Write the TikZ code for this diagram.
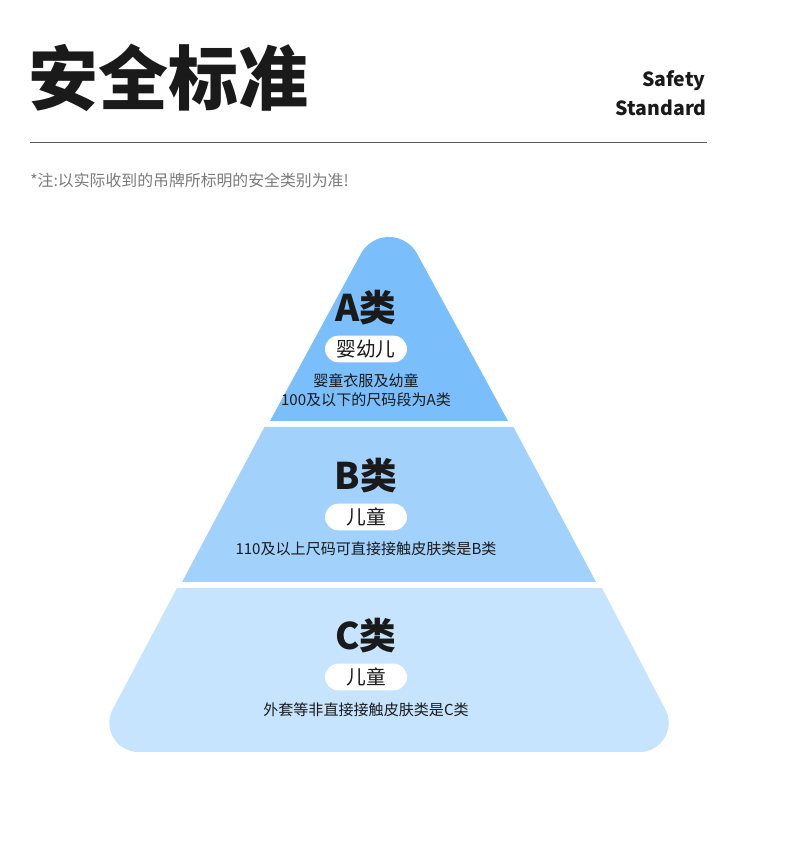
\documentclass[tikz,border=0pt]{standalone}
\usepackage{fontspec}
\newfontfamily\cjk{Noto Sans CJK SC}
\definecolor{tierA}{HTML}{7ABEFC}
\definecolor{tierB}{HTML}{A2D1FC}
\definecolor{tierC}{HTML}{C6E4FD}
\definecolor{ink}{HTML}{1A1A1A}
\definecolor{rulegray}{HTML}{5A5A5A}
\definecolor{notegray}{HTML}{7A7A7A}
\begin{document}
\begin{tikzpicture}[x=0.75pt,y=0.75pt,
        every node/.style={font=\cjk, text=ink, inner sep=0pt},
        grade/.style={font=\cjk\bfseries\fontsize{27.5}{27.5}\selectfont},
        pill/.style={fill=white, rounded corners=10pt, minimum width=61.5pt,
            minimum height=20pt, font=\cjk\fontsize{14.8}{14.8}\selectfont},
        desc/.style={font=\cjk\fontsize{11.3}{14.25}\selectfont, align=center}]
        \useasboundingbox (0,0) rectangle (790,865);
        % heading
        \node[anchor=west, font=\cjk\bfseries\fontsize{52.5}{52.5}\selectfont] (title) at (28,787) {安全标准};
        \node[anchor=east, font=\cjk\bfseries\fontsize{14.6}{14.6}\selectfont] (safety) at (706,784.5) {Safety};
        \node[anchor=east, font=\cjk\bfseries\fontsize{14.6}{14.6}\selectfont] (standard) at (707,757) {Standard};
        \draw[rulegray, line width=0.75pt] (30,722) -- (707,722);
        \node[anchor=west, text=notegray, font=\cjk\fontsize{11.9}{11.9}\selectfont] (note) at (30,685) {*注:以实际收到的吊牌所标明的安全类别为准!};
        % A tier
        \fill[tierA] (270,444) -- ([shift={(151.5:32)}]389,596)
            arc[start angle=151.5, end angle=28.5, radius=32] -- (508,444) -- cycle;
        \node[grade] (gradeA) at (366,557) {A类};
        \node[pill] (pillA) at (366,516) {婴幼儿};
        \node[desc] (descA) at (366,474.5) {婴童衣服及幼童\\100及以下的尺码段为A类};
        % B tier
        \fill[tierB] (182,283) -- (264.5,438) -- (513.5,438) -- (596,283) -- cycle;
        \node[grade] (gradeB) at (366,389) {B类};
        \node[pill] (pillB) at (366,348) {儿童};
        \node[desc] (descB) at (366,316) {110及以上尺码可直接接触皮肤类是B类};
        % C tier
        \fill[tierC] (177,277) -- (112.7,155.7)
            arc[start angle=151.9, end angle=270, radius=29] -- (639.7,113)
            arc[start angle=270, end angle=388.1, radius=29] -- (602,277) -- cycle;
        \node[grade] (gradeC) at (366,229) {C类};
        \node[pill] (pillC) at (366,188) {儿童};
        \node[desc] (descC) at (366,155) {外套等非直接接触皮肤类是C类};
\end{tikzpicture}
\end{document}
